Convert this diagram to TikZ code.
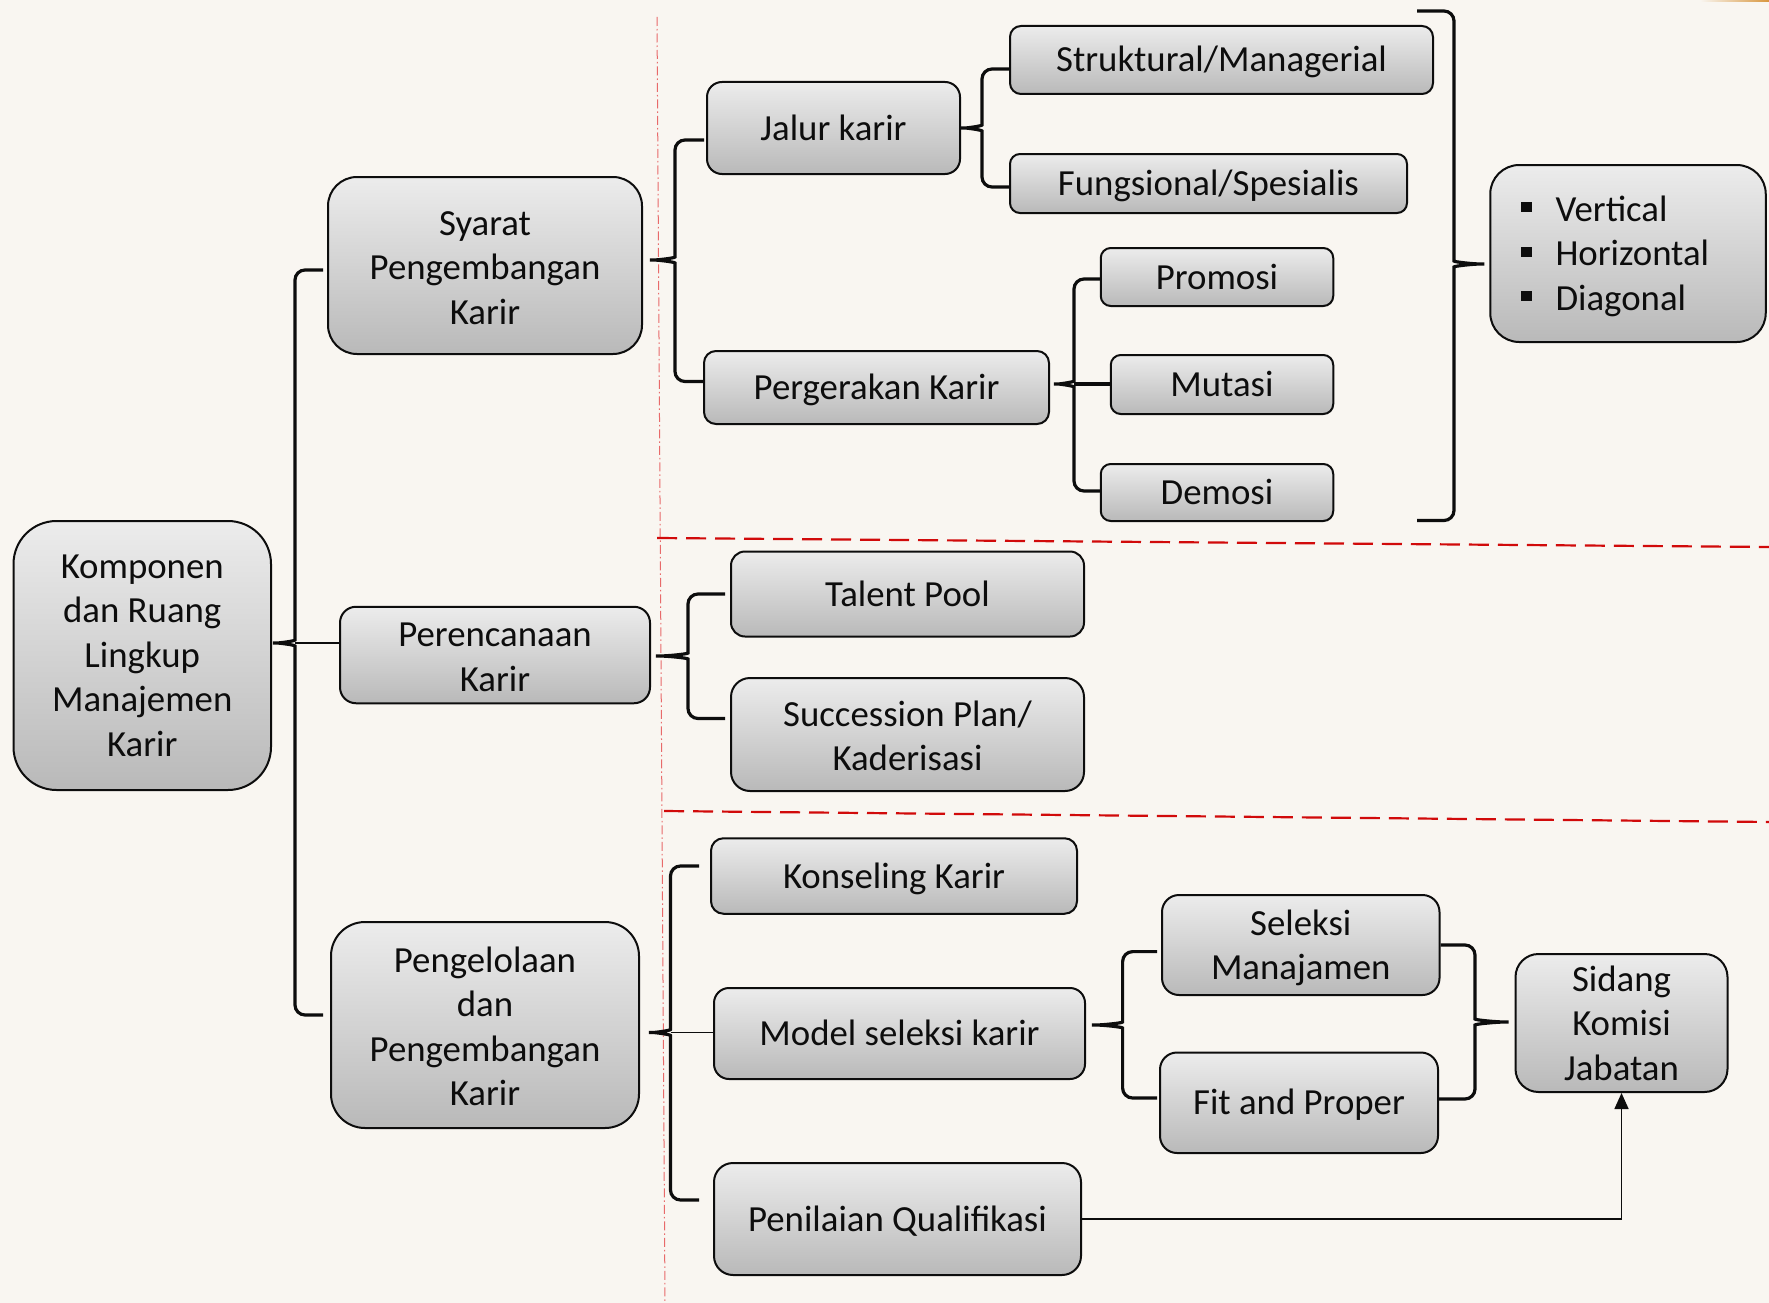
\documentclass[tikz,border=0pt]{standalone}
\usepackage{fontspec}
\setmainfont{Carlito}
\usetikzlibrary{calc,arrows.meta}

\definecolor{bg}{HTML}{F9F6F1}
\definecolor{boxtop}{HTML}{ECECEC}
\definecolor{boxbot}{HTML}{B9B9B9}
\definecolor{ink}{HTML}{0D0D0D}
\definecolor{sepred}{HTML}{D10A0A}
\definecolor{lightred}{HTML}{E86A6A}
\definecolor{accent}{HTML}{D8963E}

% curly brace: tip, point on the spine, first end, second end
\newcommand\cbrace[4]{%
  \draw[brc] (#3) -- (#3 -| #2) -- ($(#1 -| #2)+(0,-13)$)
    .. controls ($(#1 -| #2)+(0,-2)$) and ($(#1)!0.45!(#1 -| #2)$) .. (#1)
    .. controls ($(#1)!0.45!(#1 -| #2)$) and ($(#1 -| #2)+(0,2)$) .. ($(#1 -| #2)+(0,13)$)
    -- (#4 -| #2) -- (#4);}

\newcommand\sqbul{\rule[9pt]{11pt}{10pt}\hspace{23.5pt}}
% strut lifting the first line of a stacked label
\newcommand\topstrut[1]{\rule{0pt}{#1pt}}

\tikzset{
  box/.style={draw=ink, line width=2pt, top color=boxtop, bottom color=boxbot,
    align=center, inner sep=0pt, text=ink,
    font=\fontsize{36.8}{44.5}\selectfont},
  oneline/.style={box,
    execute at begin node={\rule{0pt}{31pt}},
    execute at end node={\rule[-7pt]{0pt}{7pt}}},
  brc/.style={draw=ink, line width=3.2pt, rounded corners=10pt},
  thinlink/.style={draw=ink, line width=1.3pt},
  arrowlink/.style={draw=ink, line width=1.6pt, -{Triangle[length=16pt,width=14pt]}},
  hsep/.style={draw=sepred, line width=2.2pt, dash pattern=on 20pt off 9pt},
  vsep/.style={draw=lightred, line width=1pt, dash pattern=on 9pt off 3pt on 1.5pt off 3pt},
}

\begin{document}
\begin{tikzpicture}[x=1pt,y=-1pt]
\useasboundingbox (0,0) rectangle (1769,1303);
\fill[bg] (0,0) rectangle (1769,1303);
\shade[left color=bg, right color=accent] (1700,0) rectangle (1769,2);

% section separators
\draw[vsep] (657,17) -- (665,1303);
\draw[hsep] (657,538) -- (1769,547);
\draw[hsep] (664,811) -- (1769,822);

% root and main branches
\node[box, minimum width=257.5pt, minimum height=269pt, rounded corners=43pt] (komp) at (142.25,655.5)
  {Komponen\\dan Ruang\\Lingkup\\Manajemen\\Karir};
\node[box, minimum width=314pt, minimum height=177pt, rounded corners=29pt] (syarat) at (485,265.5)
  {\topstrut{29}Syarat\\Pengembangan\\Karir};
\node[box, minimum width=310pt, minimum height=96.5pt, rounded corners=16pt] (peren) at (495,655)
  {\topstrut{28}Perencanaan\\Karir};
\node[box, minimum width=308pt, minimum height=206pt, rounded corners=34pt] (pengel) at (485,1025)
  {\topstrut{28}Pengelolaan\\dan\\Pengembangan\\Karir};

% career requirements
\node[oneline, minimum width=253pt, minimum height=92pt, rounded corners=15pt] (jalur) at (833.5,128) {Jalur karir};
\node[oneline, minimum width=345pt, minimum height=73pt, rounded corners=12pt] (perg) at (876.5,387.5) {Pergerakan Karir};
\node[oneline, minimum width=423pt, minimum height=68pt, rounded corners=11pt] (strukt) at (1221.5,60) {Struktural/Managerial};
\node[oneline, minimum width=397pt, minimum height=59pt, rounded corners=10pt] (fungs) at (1208.5,183.5) {Fungsional/Spesialis};
\node[oneline, minimum width=232.5pt, minimum height=58pt, rounded corners=10pt] (promosi) at (1217,277) {Promosi};
\node[oneline, minimum width=222.5pt, minimum height=59pt, rounded corners=10pt] (mutasi) at (1222,384.5) {Mutasi};
\node[oneline, minimum width=232.5pt, minimum height=57pt, rounded corners=10pt] (demosi) at (1217,492.5) {Demosi};
\node[box, align=left, text width=214pt, inner xsep=30.75pt, minimum height=177pt, rounded corners=29pt] (vhd) at (1628,253.5)
  {\topstrut{31}\sqbul Vertical\\\sqbul Horizontal\\\sqbul Diagonal};

% career planning
\node[oneline, minimum width=353pt, minimum height=85pt, rounded corners=14pt] (talent) at (907.5,594) {Talent Pool};
\node[box, minimum width=353pt, minimum height=113pt, rounded corners=19pt] (succ) at (907.5,734.5)
  {\topstrut{28}Succession Plan/\\Kaderisasi};

% career management
\node[oneline, minimum width=366pt, minimum height=75.5pt, rounded corners=12.5pt] (konsel) at (894,876) {Konseling Karir};
\node[oneline, minimum width=371pt, minimum height=91pt, rounded corners=15pt] (model) at (899.5,1033.5) {Model seleksi karir};
\node[oneline, minimum width=367pt, minimum height=112pt, rounded corners=19pt] (penil) at (897.5,1219) {Penilaian Qualifikasi};
\node[box, minimum width=277.5pt, minimum height=100pt, rounded corners=17pt] (selek) at (1300.75,945)
  {\topstrut{31}Seleksi\\Manajamen};
\node[oneline, minimum width=278pt, minimum height=100.5pt, rounded corners=17pt] (fit) at (1299,1102.75) {Fit and Proper};
\node[box, minimum width=212pt, minimum height=138pt, rounded corners=23pt] (sidang) at (1621.5,1023) {Sidang\\Komisi\\Jabatan};

% brace: root to main branches
\coordinate (tA) at ($(komp.east)+(-5,-12.5)$);
\coordinate (sA) at (295,0);
\coordinate (aA) at ($(syarat.west)+(-4,4.5)$);
\coordinate (bA) at ($(pengel.west)+(-7,-10)$);
\cbrace{tA}{sA}{aA}{bA}
\draw[thinlink] (tA -| sA) -- (tA -| peren.west);

% brace: requirements
\coordinate (tB) at ($(syarat.east)+(1,-5.5)$);
\coordinate (sB) at (675,0);
\coordinate (aB) at ($(jalur.west)+(-2,12)$);
\coordinate (bB) at ($(perg.west)+(0,-6)$);
\cbrace{tB}{sB}{aB}{bB}

% brace: career paths
\coordinate (tC) at ($(jalur.east)+(-6,0)$);
\coordinate (sC) at (982,0);
\coordinate (aC) at ($(strukt.west)+(0,9)$);
\coordinate (bC) at ($(fungs.west)+(0,3.5)$);
\cbrace{tC}{sC}{aC}{bC}

% brace: career movements
\coordinate (tD) at ($(perg.east)+(-2,-3.5)$);
\coordinate (sD) at (1074,0);
\coordinate (aD) at ($(promosi.west)+(0,2)$);
\coordinate (bD) at ($(demosi.west)+(0,-1.5)$);
\cbrace{tD}{sD}{aD}{bD}
\draw[brc] (tD -| sD) -- (tD -| mutasi.west);

% bracket gathering paths and movements
\coordinate (tE) at ($(vhd.west)+(1,10.5)$);
\coordinate (sE) at (1454,0);
\coordinate (aE) at (1417,11);
\coordinate (bE) at (1417,520.5);
\cbrace{tE}{sE}{aE}{bE}

% brace: career planning
\coordinate (tF) at ($(peren.east)+(-1,1)$);
\coordinate (sF) at (688,0);
\coordinate (aF) at ($(talent.west)+(-5,0)$);
\coordinate (bF) at ($(succ.west)+(-5,-16)$);
\cbrace{tF}{sF}{aF}{bF}

% brace: career management
\coordinate (tG) at ($(pengel.east)+(3,7.5)$);
\coordinate (sG) at (670.5,0);
\coordinate (aG) at ($(konsel.west)+(-11,-10)$);
\coordinate (bG) at ($(penil.west)+(-14,-19)$);
\cbrace{tG}{sG}{aG}{bG}
\draw[thinlink] (tG -| sG) -- (tG -| model.west);

% brace: selection models
\coordinate (tH) at ($(model.east)+(0,-8.5)$);
\coordinate (sH) at (1122.6,0);
\coordinate (aH) at ($(selek.west)+(-4,6.6)$);
\coordinate (bH) at ($(fit.west)+(-2,-4.75)$);
\cbrace{tH}{sH}{aH}{bH}

% brace: selection results to the committee
\coordinate (tI) at ($(sidang.west)+(0,-1)$);
\coordinate (sI) at (1475,0);
\coordinate (aI) at (selek.east);
\coordinate (bI) at ($(fit.east)+(0,-3.75)$);
\cbrace{tI}{sI}{aI}{bI}

% qualification assessment feeds the committee
\draw[arrowlink] (penil.east) -| (sidang.south);
\end{tikzpicture}
\end{document}
